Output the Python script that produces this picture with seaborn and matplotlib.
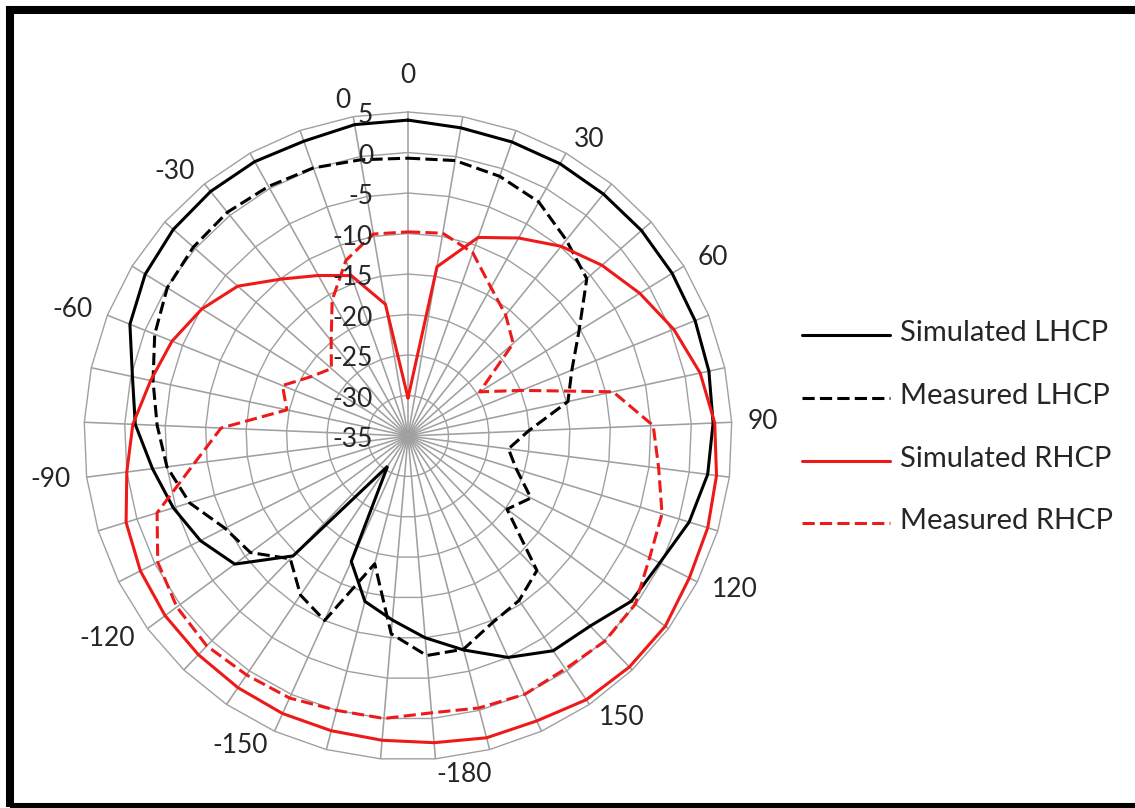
import numpy as np
import pandas as pd
import matplotlib
matplotlib.use("Agg")
import matplotlib.pyplot as plt
import matplotlib.transforms as mtransforms
from matplotlib.lines import Line2D
from matplotlib.patches import Rectangle
import seaborn as sns

# ---- data: radiation pattern (dB) at 37 category positions ----
categories = [0, 10, 20, 30, 40, 50, 60, 70, 80, 90, 100, 110, 120, 130, 140, 150, 160, 170,
              -180, -170, -160, -150, -140, -130, -120, -110, -100, -90, -80, -70, -60,
              -50, -40, -30, -20, -10, 0]

sim_lhcp = [4.0, 3.6, 3.5, 3.5, 3.4, 3.4, 3.3, 3.2, 3.0, 2.7, 2.3, 1.3, -0.2, -0.7, -2.5,
            -3.0, -5.0, -7.7, -10.0, -12.2, -13.9, -18.0, -30.5, -14.5, -8.4, -6.3, -4.7,
            -3.2, -1.3, -0.2, 2.0, 3.1, 3.6, 3.8, 3.8, 3.6, 4.0]

meas_lhcp = [-0.7, -0.5, -1.0, -1.9, -3.9, -5.6, -10.2, -13.2, -14.8, -20.1, -22.5, -21.0,
             -18.0, -19.8, -12.0, -10.5, -9.7, -7.8, -7.8, -10.5, -18.7, -10.0, -11.3, -14.0,
             -10.8, -9.7, -6.8, -5.0, -4.0, -2.8, -1.3, -0.1, 0.3, 0.5, 0.3, 0.1, -0.4]

sim_rhcp = [-30.3, -13.8, -9.0, -7.0, -4.9, -3.1, -1.4, 0.35, 1.9, 2.9, 3.4, 3.7, 3.9, 4.5,
            4.5, 4.3, 3.6, 3.5, 3.0, 2.7, 2.6, 2.6, 2.5, 2.4, 2.3, 2.0, 1.4, 0.0, -1.0, -2.5,
            -3.6, -5.1, -7.0, -10.1, -12.3, -14.0, -18.5]

meas_rhcp = [-9.8, -9.6, -11.0, -14.0, -15.8, -17.7, -24.6, -19.9, -9.1, -4.7, -3.8, -2.2,
             -1.6, -0.1, 0.1, -0.3, 0.0, -0.3, -0.7, 0.0, 0.0, 0.5, 0.6, 0.9, 0.5, -0.4, -2.6,
             -8.4, -11.9, -19.7, -18.3, -21.0, -22.4, -19.9, -15.8, -12.0, -9.7]

series_names = ["Simulated LHCP", "Measured LHCP", "Simulated RHCP", "Measured RHCP"]
series_values = [sim_lhcp, meas_lhcp, sim_rhcp, meas_rhcp]

ring_levels = [-35, -30, -25, -20, -15, -10, -5, 0, 5]
shown_labels = {0, 30, 60, 90, 120, 150, -180, -150, -120, -90, -60, -30}

# ---- styling ----
BLACK = "#000000"
RED = "#EE1A1A"
GRID = "#A0A0A0"
TEXT = "#262626"
palette = {"Simulated LHCP": BLACK, "Measured LHCP": BLACK,
           "Simulated RHCP": RED, "Measured RHCP": RED}
dash_map = {"Simulated LHCP": "", "Measured LHCP": (4, 1.7),
            "Simulated RHCP": "", "Measured RHCP": (4, 1.7)}

sns.set_style("white")
plt.rcParams["font.family"] = ["Lato", "DejaVu Sans"]

W, H = 1135, 808
fig = plt.figure(figsize=(W / 100, H / 100), dpi=100)
fig.patch.set_facecolor("white")

cx, cy, R = 408, 436, 324
ax = fig.add_axes([(cx - R) / W, (H - cy - R) / H, 2 * R / W, 2 * R / H], projection="polar")
ax.set_theta_zero_location("N")
ax.set_theta_direction(-1)
ax.grid(False)
ax.spines["polar"].set_visible(False)
ax.set_facecolor("white")

n = len(categories)
thetas = np.arange(n) * 2 * np.pi / n
closed = np.r_[thetas, 2 * np.pi]

# polygonal rings and spokes
for lev in ring_levels[1:]:
    ax.plot(closed, [lev] * len(closed), color=GRID, lw=1.0, zorder=1, clip_on=False)
for t in thetas:
    ax.plot([t, t], [ring_levels[0], ring_levels[-1]], color=GRID, lw=1.15, zorder=1,
            clip_on=False, solid_capstyle="butt")

# long-form table of the four traces (loop closed back to the first category)
frames = []
for name, vals in zip(series_names, series_values):
    frames.append(pd.DataFrame({"theta": closed, "gain": list(vals) + [vals[0]], "series": name}))
df = pd.concat(frames, ignore_index=True)

sns.lineplot(data=df, x="theta", y="gain", hue="series", style="series",
             hue_order=series_names, style_order=series_names,
             palette=palette, dashes=dash_map, sort=False, estimator=None,
             legend=False, linewidth=2.2, ax=ax)
for ln in ax.lines[-4:]:
    ln.set_zorder(3)
    ln.set_clip_on(False)
    ln.set_solid_joinstyle("miter")

ax.set_ylim(ring_levels[0], ring_levels[-1])
ax.set_xticks([])
ax.set_yticks([])
ax.set_xlabel("")
ax.set_ylabel("")

FS = 19
# radial value labels along the first spoke
for lev in ring_levels:
    tr = mtransforms.offset_copy(ax.transData, fig=fig, x=-35, y=-4, units="dots")
    ax.text(0, lev, str(lev), transform=tr, ha="right", va="center",
            fontsize=FS, color=TEXT, zorder=5)

# category labels around the rim
for k, (t, c) in enumerate(zip(thetas, categories)):
    if not (c in shown_labels or k == n - 1):
        continue
    s, co = np.sin(t), np.cos(t)
    if k == 0:
        off, ha = 36, "center"
    else:
        off = 16
        ha = "left" if s > 0.05 else ("right" if s < -0.05 else "center")
    tr = mtransforms.offset_copy(ax.transData, fig=fig, x=off * s, y=off * co, units="dots")
    ax.text(t, ring_levels[-1], str(c), transform=tr, ha=ha, va="center",
            fontsize=FS, color=TEXT, clip_on=False)

# legend on the right
leg_y = [335, 398, 461, 523]
for name, y in zip(series_names, leg_y):
    yf = 1 - y / H
    fig.add_artist(Line2D([802 / W, 890 / W], [yf, yf], transform=fig.transFigure,
                          color=palette[name], lw=2.2,
                          dashes=dash_map[name] if dash_map[name] else (None, None)))
    fig.text(900 / W, yf + 2 / H, name, ha="left", va="center", fontsize=21, color=TEXT)

# outer frame
fig.add_artist(Rectangle((10 / W, 1.5 / H), (1145 - 10) / W, (798.5 - 1.5) / H,
                         transform=fig.transFigure, fill=False, edgecolor="black",
                         lw=5.8, clip_on=False))

fig.savefig("out.png", dpi=100, facecolor="white")
